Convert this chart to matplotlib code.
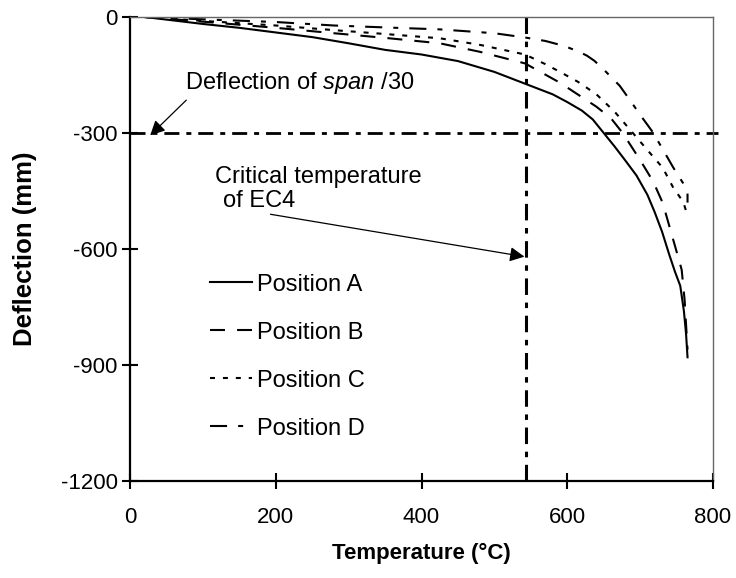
import numpy as np
import matplotlib
matplotlib.use("Agg")
import matplotlib.pyplot as plt
from matplotlib import font_manager

plt.rcParams['font.family'] = ['Liberation Sans', 'DejaVu Sans']
plt.rcParams['mathtext.fontset'] = 'custom'
plt.rcParams['mathtext.rm'] = 'Liberation Sans'
plt.rcParams['mathtext.it'] = 'Liberation Sans:italic'
plt.rcParams['axes.unicode_minus'] = False

# the axis text in the original looks vertically stretched -> use a narrow face if present
try:
    font_manager.findfont('Liberation Sans Narrow', fallback_to_default=False)
    axis_family = ['Liberation Sans Narrow', 'Liberation Sans']
    axis_size = 19
except ValueError:
    axis_family = ['Liberation Sans', 'DejaVu Sans']
    axis_size = 16

# Data
temp_a = [20, 100, 150, 200, 250, 300, 350, 400, 450, 500, 540, 580, 600, 620, 635,
          650, 665, 680, 695, 710, 720, 730, 740, 748, 755, 760, 763, 765]
defl_a = [0, -18, -28, -40, -52, -68, -85, -97, -114, -142, -171, -200, -220, -242, -265,
          -300, -335, -372, -410, -460, -505, -555, -615, -660, -695, -760, -820, -880]

temp_b = [20, 100, 200, 280, 350, 425, 480, 542, 590, 640, 660, 676, 700, 718, 731,
          752, 757, 761, 765]
defl_b = [0, -12, -28, -42, -54, -68, -90, -120, -170, -232, -262, -300, -370, -426, -481,
          -620, -654, -732, -860]

temp_c = [20, 100, 200, 280, 350, 425, 480, 542, 570, 590, 615, 640, 665, 690, 709,
          731, 745, 759, 764]
defl_c = [0, -10, -22, -34, -44, -55, -72, -97, -122, -142, -168, -200, -245, -300, -342,
          -390, -440, -478, -507]

temp_d = [20, 100, 200, 280, 350, 425, 500, 542, 570, 590, 600, 615, 627, 637, 648,
          660, 672, 686, 700, 717, 731, 745, 759, 765, 765]
defl_d = [0, -6, -13, -22, -27, -32, -42, -53, -62, -72, -78, -89, -100, -113, -132,
          -155, -178, -215, -253, -297, -342, -388, -430, -455, -480]

span_limit = -300      # deflection of span/30
critical_temp = 543    # critical temperature of EC4

fig = plt.figure(figsize=(7.36, 5.78), dpi=100)
ax = fig.add_axes([0.1766, 0.1678, 0.7922, 0.8028])

ax.plot(temp_a, defl_a, color='k', lw=1.5, label='Position A')
ax.plot(temp_b, defl_b, color='k', lw=1.5, dashes=[7.2, 5.8], label='Position B')
ax.plot(temp_c, defl_c, color='k', lw=1.5, dashes=[2.4, 3.8], label='Position C')
ax.plot(temp_d, defl_d, color='k', lw=1.5, dashes=[8.2, 5.3, 2.4, 5.3], label='Position D')

# reference lines
ax.plot([0, 807], [span_limit, span_limit], color='k', lw=2,
        dashes=[5.4, 2.5, 1.8, 2.5], clip_on=False)
ax.plot([critical_temp, critical_temp], [0, -1200], color='k', lw=2.2,
        dashes=[5.4, 2.5, 1.8, 2.5], clip_on=False)

# annotations
ax.text(75, -171, r'Deflection of $\mathit{span}$ /30', fontsize=17,
        ha='left', va='center')
ax.annotate('', xy=(25, -311), xytext=(80, -210),
            arrowprops=dict(arrowstyle='-|>', color='k', lw=0.9, mutation_scale=22))
ax.text(117, -414, 'Critical temperature', fontsize=17, ha='left', va='center')
ax.text(128, -476, 'of EC4', fontsize=17, ha='left', va='center')
ax.annotate('', xy=(545, -621), xytext=(189, -509),
            arrowprops=dict(arrowstyle='-|>', color='k', lw=0.9, mutation_scale=22))

ax.set_xlim(0, 800)
ax.set_ylim(-1200, 0)
ax.set_xticks([0, 200, 400, 600, 800])
ax.set_yticks([0, -300, -600, -900, -1200])
ax.tick_params(direction='inout', length=11.5, width=1.5, color='k')
ax.tick_params(axis='x', pad=13)
ax.tick_params(axis='y', pad=3)
for lab in ax.get_xticklabels() + ax.get_yticklabels():
    lab.set_family(axis_family)
    lab.set_fontsize(axis_size)

for side in ['left', 'bottom']:
    ax.spines[side].set_linewidth(1.6)
    ax.spines[side].set_color('k')
for side in ['top', 'right']:
    ax.spines[side].set_linewidth(1.0)
    ax.spines[side].set_color('#666666')

ax.set_xlabel('Temperature (°C)', fontsize=axis_size, fontweight='bold',
              family=axis_family, labelpad=11)
ax.set_ylabel('Deflection (mm)', fontsize=18.5, fontweight='bold', labelpad=17.5)

ax.legend(loc='upper left', bbox_to_anchor=(0.137, 0.447), frameon=False,
          fontsize=17, handlelength=1.78, handletextpad=0.21, labelspacing=1.1,
          borderaxespad=0, borderpad=0)

fig.savefig('out.png', dpi=100)
